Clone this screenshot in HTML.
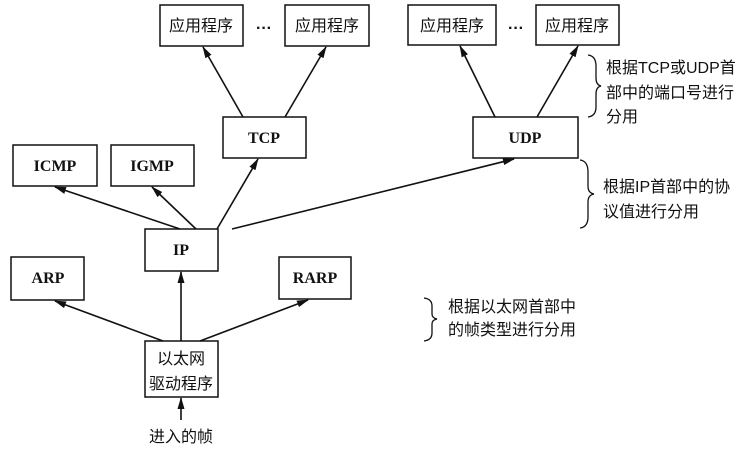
<!DOCTYPE html>
<html><head><meta charset="utf-8"><style>
body{margin:0;background:#fff}
text{font-family:"Liberation Sans","Noto Sans CJK SC",sans-serif;font-size:16px;fill:#111}
.b{font-family:"Liberation Serif",serif;font-weight:bold;font-size:16px}
rect{fill:#fff;stroke:#111;stroke-width:1.5}
line{stroke:#111;stroke-width:1.6}
path.br{fill:none;stroke:#111;stroke-width:1.3}
</style></head><body>
<svg width="754" height="448" viewBox="0 0 754 448">
<defs><marker id="a" markerWidth="12" markerHeight="8" refX="11" refY="4" orient="auto" markerUnits="userSpaceOnUse"><path d="M0,0.5L12,4L0,7.5z" fill="#111"/></marker></defs>
<rect x="160" y="5" width="83" height="41"/><text x="201" y="31" text-anchor="middle">应用程序</text>
<rect x="285" y="5" width="84" height="41"/><text x="327" y="31" text-anchor="middle">应用程序</text>
<text x="264" y="33" text-anchor="middle" style="font-weight:bold">···</text>
<rect x="408" y="5" width="88" height="40"/><text x="452" y="31" text-anchor="middle">应用程序</text>
<rect x="536" y="5" width="83" height="40"/><text x="577" y="31" text-anchor="middle">应用程序</text>
<text x="516" y="33" text-anchor="middle" style="font-weight:bold">···</text>
<rect x="223" y="117" width="83" height="41"/><text class="b" x="264" y="143" text-anchor="middle">TCP</text>
<rect x="473" y="117" width="105" height="41"/><text class="b" x="525" y="143" text-anchor="middle">UDP</text>
<rect x="13" y="145" width="84" height="41"/><text class="b" x="55" y="171" text-anchor="middle">ICMP</text>
<rect x="111" y="145" width="83" height="41"/><text class="b" x="152" y="171" text-anchor="middle">IGMP</text>
<rect x="145" y="229" width="73" height="42"/><text class="b" x="181" y="255" text-anchor="middle">IP</text>
<rect x="11" y="257" width="73" height="43"/><text class="b" x="48" y="283" text-anchor="middle">ARP</text>
<rect x="279" y="257" width="72" height="42"/><text class="b" x="315" y="283" text-anchor="middle">RARP</text>
<rect x="145" y="341" width="73" height="56"/><text x="181" y="364" text-anchor="middle">以太网</text><text x="181" y="389" text-anchor="middle">驱动程序</text>
<text x="181" y="442" text-anchor="middle">进入的帧</text>
<g marker-end="url(#a)">
<line x1="243" y1="117" x2="203" y2="47"/>
<line x1="285" y1="117" x2="326" y2="47"/>
<line x1="495" y1="117" x2="460" y2="46"/>
<line x1="537" y1="117" x2="578" y2="46"/>
<line x1="180" y1="229" x2="55" y2="187"/>
<line x1="196" y1="229" x2="152" y2="187"/>
<line x1="217" y1="229" x2="258" y2="159"/>
<line x1="232" y1="229" x2="514" y2="159"/>
<line x1="163" y1="341" x2="55" y2="301"/>
<line x1="181" y1="341" x2="181" y2="272"/>
<line x1="200" y1="341" x2="308" y2="300"/>
<line x1="181" y1="420" x2="181" y2="398"/>
</g>
<path class="br" d="M588,55 Q596,56 596,66 L596,78 Q596,85 601,86 Q596,87 596,94 L596,107 Q596,116 588,117"/>
<text x="606" y="73">根据TCP或UDP首</text><text x="606" y="98">部中的端口号进行</text><text x="606" y="122">分用</text>
<path class="br" d="M580,160 Q588,161 588,172 L588,186 Q588,193 594,194 Q588,195 588,202 L588,217 Q588,227 580,228"/>
<text x="603" y="192">根据IP首部中的协</text><text x="603" y="217">议值进行分用</text>
<path class="br" d="M424,298 Q432,299 432,306 L432,314 Q432,318 437,319 Q432,320 432,324 L432,333 Q432,340 424,341"/>
<text x="448" y="312">根据以太网首部中</text><text x="448" y="335">的帧类型进行分用</text>
</svg>
</body></html>
